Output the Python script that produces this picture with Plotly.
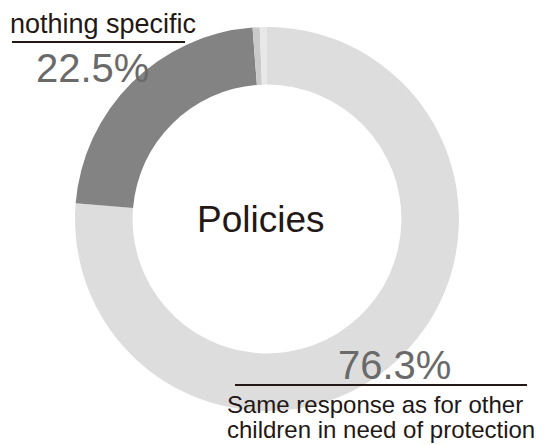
import plotly.graph_objects as go

labels = ["Same response as for other children in need of protection", "nothing specific", "other", "unknown"]
values = [76.3, 22.5, 0.6, 0.6]
colors = ["#dddddd", "#838383", "#cacaca", "#e8e8e8"]
center_title = "Policies"
label_lines = ["Same response as for other", "children in need of protection"]

# page has an 8px body margin; figure occupies page pixels 8..543 x 8..445
OFF = 8
W, H = 543 - OFF, 445 - OFF

def px(x):
    return (x - OFF) / W

def py(y):
    return 1 - (y - OFF) / H

fig = go.Figure(go.Pie(
    labels=labels, values=values, hole=0.70, sort=False, direction="clockwise",
    rotation=0, marker=dict(colors=colors, line=dict(width=0)),
    textinfo="none", showlegend=False,
    domain=dict(x=[px(75), px(459)], y=[py(411), py(27)]),
))

font = "Arial, Liberation Sans, sans-serif"
ann = []
ann.append(dict(text=center_title, x=px(261), y=py(219), font=dict(size=37, color="#231815", family=font)))
ann.append(dict(text=labels[1], x=px(103), y=py(24), font=dict(size=27, color="#231815", family=font)))
ann.append(dict(text=f"{values[1]}%", x=px(92), y=py(68), font=dict(size=40, color="#6a6a6a", family=font)))
ann.append(dict(text=f"{values[0]}%", x=px(394), y=py(365), font=dict(size=40, color="#6a6a6a", family=font)))
ann.append(dict(text=label_lines[0], x=px(375), y=py(404), font=dict(size=24, color="#231815", family=font)))
ann.append(dict(text=label_lines[1], x=px(381), y=py(429), font=dict(size=24, color="#231815", family=font)))
for a in ann:
    a.update(xref="paper", yref="paper", showarrow=False, xanchor="center", yanchor="middle")

shapes = [
    dict(type="line", xref="paper", yref="paper", x0=px(12), x1=px(185), y0=py(42), y1=py(42), line=dict(color="#231815", width=2)),
    dict(type="line", xref="paper", yref="paper", x0=px(235), x1=px(527), y0=py(385), y1=py(385), line=dict(color="#231815", width=2)),
]

fig.update_layout(width=W, height=H, margin=dict(l=0, r=0, t=0, b=0),
                  paper_bgcolor="white", plot_bgcolor="white",
                  annotations=ann, shapes=shapes)
fig.write_html("out.html")
